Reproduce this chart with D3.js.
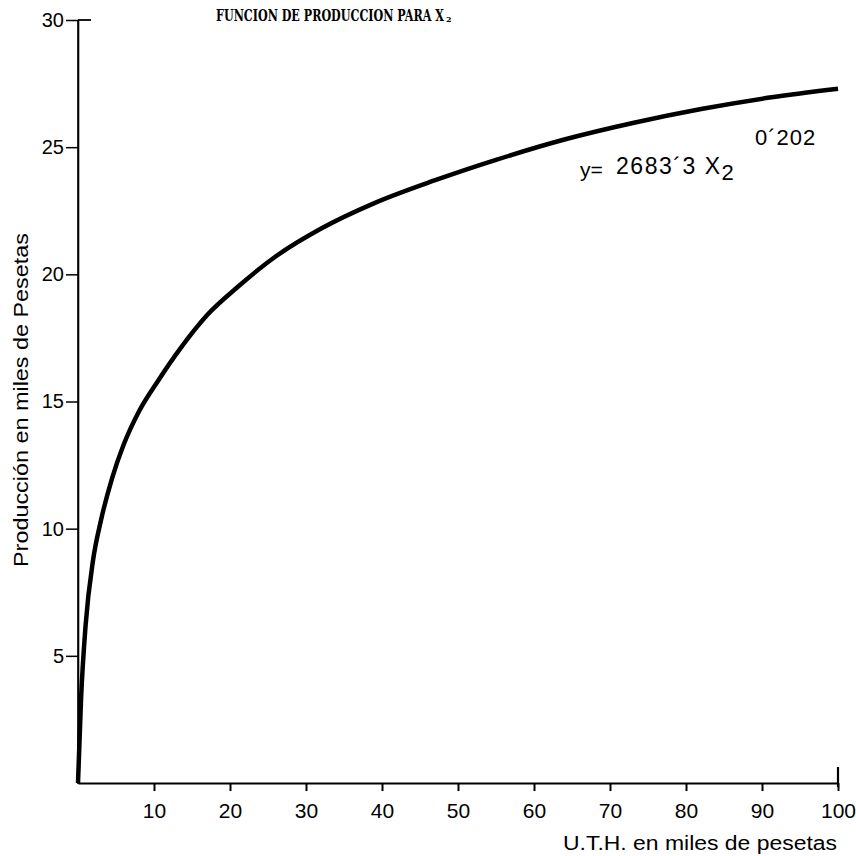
<!DOCTYPE html>
<html>
<head>
<meta charset="utf-8">
<script src="https://cdn.jsdelivr.net/npm/d3@7"></script>
<style>
  html, body { margin: 0; padding: 0; background: #fff; }
  svg { display: block; }
</style>
</head>
<body>
<svg id="chart" width="856" height="856"></svg>
<script>
// ---- data ----
const xValues = [0, 0.4, 1.0, 2.0, 3.0, 4.5, 6.0, 8.0, 10.5, 13.5, 17, 21, 26, 32, 39, 47, 55, 64, 73, 82, 91, 100];
const yValues = [0, 3.3, 6.2, 8.8, 10.3, 12.0, 13.3, 14.6, 15.8, 17.1, 18.4, 19.5, 20.7, 21.8, 22.8, 23.7, 24.5, 25.3, 25.95, 26.5, 26.95, 27.3];
const xTicks = [10, 20, 30, 40, 50, 60, 70, 80, 90, 100];
const yTicks = [5, 10, 15, 20, 25, 30];
const titleText = "FUNCION DE PRODUCCION PARA X";
const titleSub = "2";
const xLabel = "U.T.H. en miles de pesetas";
const yLabel = "Producción en miles de Pesetas";
const eqLeft = "y=";
const eqMain = "2683\u00B43 X";
const eqSub = "2";
const eqExp = "0\u00B4202";

const svg = d3.select("#chart");
const x0 = 78, x1 = 838, y0 = 783, y1 = 20;
const x = d3.scaleLinear().domain([0, 100]).range([x0, x1]);
const y = d3.scaleLinear().domain([0, 30]).range([y0, y1]);
const font = '"Liberation Sans", Arial, Helvetica, sans-serif';
const serif = '"DejaVu Serif", "Liberation Serif", serif';

// x axis
const xa = svg.append("g").attr("transform", `translate(0,${y0})`)
  .call(d3.axisBottom(x).tickValues(xTicks).tickSize(8).tickPadding(12).tickSizeOuter(0));
xa.select(".domain").attr("stroke", "#000").attr("stroke-width", 2.2);
xa.selectAll(".tick line").attr("stroke", "#000").attr("stroke-width", 2);
xa.selectAll(".tick text").attr("font-family", font).attr("font-size", 21).attr("fill", "#000");
// end cap at 100
svg.append("line").attr("x1", x(100)).attr("x2", x(100))
  .attr("y1", y0 - 16).attr("y2", y0 + 4).attr("stroke", "#000").attr("stroke-width", 2.2);

// y axis
const ya = svg.append("g").attr("transform", `translate(${x0},0)`)
  .call(d3.axisLeft(y).tickValues(yTicks).tickSize(12).tickPadding(2).tickSizeOuter(0));
ya.select(".domain").attr("stroke", "#000").attr("stroke-width", 1.6);
ya.selectAll(".tick line").attr("stroke", "#000").attr("stroke-width", 1.5);
ya.selectAll(".tick text").attr("font-family", font).attr("font-size", 20).attr("fill", "#000");
svg.append("line").attr("x1", x0).attr("x2", x0).attr("y1", y(30)).attr("y2", y0 + 1)
  .attr("stroke", "#000").attr("stroke-width", 1.6);
svg.append("line").attr("x1", x0).attr("x2", x0 + 13).attr("y1", y(30)).attr("y2", y(30))
  .attr("stroke", "#000").attr("stroke-width", 1.8);

// curve
const pts = xValues.map((v, i) => [v, yValues[i]]);
svg.append("path").datum(pts)
  .attr("fill", "none").attr("stroke", "#000").attr("stroke-width", 4.5)
  .attr("stroke-linejoin", "round")
  .attr("d", d3.line().x(d => x(d[0])).y(d => y(d[1])).curve(d3.curveMonotoneX));

// title (condensed bold serif, scaled to the reference width)
const tg = svg.append("g");
const tt = tg.append("text").attr("x", 0).attr("y", 0)
  .attr("font-family", serif).attr("font-stretch", "condensed")
  .attr("font-weight", "bold").attr("fill", "#000").attr("font-size", 17.5).text(titleText);
const tw = tt.node().getComputedTextLength();
const sx = 228 / tw;
tg.attr("transform", `translate(216,21) scale(${sx},1)`);
svg.append("text").attr("x", 216 + 228 + 2).attr("y", 22)
  .attr("font-family", serif).attr("font-weight", "bold")
  .attr("fill", "#000").attr("font-size", 8).text(titleSub);

// axis labels
svg.append("text").attr("x", 837).attr("y", 850).attr("text-anchor", "end")
  .attr("font-family", font).attr("font-size", 20).attr("fill", "#000")
  .attr("textLength", 274).attr("lengthAdjust", "spacingAndGlyphs").text(xLabel);
svg.append("text").attr("transform", "translate(28,400) rotate(-90)")
  .attr("text-anchor", "middle").attr("font-family", font).attr("font-size", 20)
  .attr("textLength", 334).attr("lengthAdjust", "spacingAndGlyphs")
  .attr("fill", "#000").text(yLabel);

// equation
svg.append("text").attr("x", 580).attr("y", 177)
  .attr("font-family", font).attr("font-size", 21).attr("fill", "#000").text(eqLeft);
const eq = svg.append("text").attr("x", 616).attr("y", 174)
  .attr("font-family", font).attr("fill", "#000");
eq.append("tspan").attr("font-size", 23).attr("textLength", 104)
  .attr("lengthAdjust", "spacing").text(eqMain);
eq.append("tspan").attr("font-size", 22).attr("dy", 6).text(eqSub);
svg.append("text").attr("x", 755).attr("y", 145)
  .attr("font-family", font).attr("font-size", 22).attr("letter-spacing", 1)
  .attr("fill", "#000").text(eqExp);
</script>
</body>
</html>
